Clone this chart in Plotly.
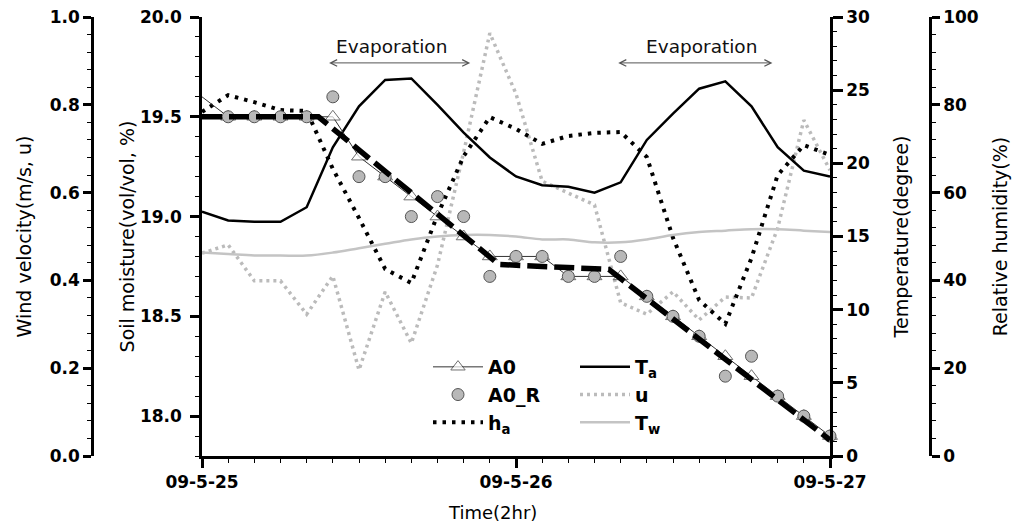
import plotly.graph_objects as go

# Time axis: two-hourly readings over two days
hours = list(range(0, 49, 2))
date_ticks = [0, 24, 48]
date_labels = ["09-5-25", "09-5-26", "09-5-27"]

# Soil moisture (vol/vol, %)
a0 = [19.6, 19.5, 19.5, 19.5, 19.5, 19.5, 19.3, 19.2, 19.1, 19.0, 18.9, 18.8, 18.8,
      18.8, 18.7, 18.7, 18.7, 18.6, 18.5, 18.4, 18.3, 18.2, 18.1, 18.0, 17.9]
a0_r = [None, 19.5, 19.5, 19.5, 19.5, 19.6, 19.2, 19.2, 19.0, 19.1, 19.0, 18.7, 18.8,
        18.8, 18.7, 18.7, 18.8, 18.6, 18.5, 18.4, 18.2, 18.3, 18.1, 18.0, 17.9]

# Piecewise trend of soil moisture
trend_hours = [0, 8.9, 22.7, 31.1, 48]
trend_moisture = [19.5, 19.5, 18.76, 18.735, 17.88]

# Air and water temperature (degree)
air_temp = [16.7, 16.1, 16.0, 16.0, 17.0, 21.1, 23.9, 25.7, 25.8, 24.0, 22.1, 20.4, 19.1,
            18.5, 18.4, 18.0, 18.7, 21.6, 23.4, 25.1, 25.6, 23.9, 21.1, 19.5, 19.1]
water_temp = [13.9, 13.8, 13.7, 13.7, 13.7, 13.9, 14.2, 14.5, 14.8, 15.0, 15.1, 15.1, 15.0,
              14.8, 14.8, 14.6, 14.6, 14.8, 15.1, 15.3, 15.4, 15.5, 15.5, 15.4, 15.3]

# Relative humidity (%)
humidity = [78.4, 82.2, 80.6, 78.8, 78.6, 65.4, 54.2, 42.6, 39.4, 54.9, 68.3, 77.2, 74.5,
            71.1, 72.9, 73.6, 73.8, 68.1, 49.7, 35.5, 30.1, 45.1, 64.0, 70.8, 68.6]

# Wind velocity (m/s)
wind = [0.462, 0.481, 0.399, 0.399, 0.323, 0.410, 0.196, 0.374, 0.257, 0.435, 0.692, 0.963, 0.825,
        0.626, 0.599, 0.572, 0.349, 0.323, 0.374, 0.310, 0.362, 0.360, 0.519, 0.765, 0.651]

# Evaporation periods (hours)
evap_start = [9.6, 31.7]
evap_end = [20.5, 43.6]
evap_label_hour = [14.5, 38.2]

W, H = 1014, 528
X0, X1 = 202, 830
TOP, BOTTOM = 17, 456
FONT = "DejaVu Sans"


def py(px):
    """Pixel row -> paper y fraction of the plot area."""
    return (BOTTOM - px) / (BOTTOM - TOP)


fig = go.Figure()

fig.add_trace(go.Scatter(
    x=hours, y=a0, name="A0", yaxis="y4", mode="lines+markers", legend="legend",
    line=dict(color="#333333", width=1),
    marker=dict(symbol="triangle-up", size=[0] + [13] * (len(hours) - 1), color="white",
                line=dict(color="#333333", width=1)),
    cliponaxis=False))
fig.add_trace(go.Scatter(
    x=hours, y=a0_r, name="A0_R", yaxis="y4", mode="markers", legend="legend",
    marker=dict(symbol="circle", size=12, color="#b8b8b8", line=dict(color="#555555", width=1)),
    cliponaxis=False))
fig.add_trace(go.Scatter(
    x=hours, y=humidity, name="h<sub>a</sub>", yaxis="y2", mode="lines", legend="legend",
    line=dict(color="black", width=4, dash="3.5px,6px")))
fig.add_trace(go.Scatter(
    x=hours, y=air_temp, name="T<sub>a</sub>", yaxis="y3", mode="lines", legend="legend2",
    line=dict(color="black", width=2.5)))
fig.add_trace(go.Scatter(
    x=hours, y=wind, name="u", yaxis="y", mode="lines", legend="legend2",
    line=dict(color="#bbbbbb", width=3.5, dash="3px,4px")))
fig.add_trace(go.Scatter(
    x=hours, y=water_temp, name="T<sub>w</sub>", yaxis="y3", mode="lines", legend="legend2",
    line=dict(color="#c4c4c4", width=2.5, shape="spline")))
fig.add_trace(go.Scatter(
    x=trend_hours, y=trend_moisture, name="trend", yaxis="y4", mode="lines", showlegend=False,
    line=dict(color="black", width=5.5, dash="20px,7px")))

tickfont = dict(family=FONT, size=17, color="black", weight="bold")
titlefont = dict(family=FONT, size=19, color="black")


def axis_style(**kw):
    base = dict(showgrid=False, zeroline=False, showline=True, linecolor="black", linewidth=2.5,
                ticks="outside", tickcolor="black", tickwidth=2.5, ticklen=9,
                tickfont=tickfont, automargin=False)
    base.update(kw)
    return base


def minor(step, ticks="outside"):
    return dict(dtick=step, ticks=ticks, ticklen=4, tickwidth=1.2, tickcolor="black")


fig.update_layout(
    width=W, height=H, template="none",
    margin=dict(l=0, r=0, t=TOP, b=H - BOTTOM),
    paper_bgcolor="white", plot_bgcolor="rgba(0,0,0,0)",
    font=dict(family=FONT, color="black"),
    xaxis=axis_style(domain=[X0 / W, X1 / W], anchor="y", range=[0, 48],
                     tickvals=date_ticks, ticktext=date_labels, ticklabelstandoff=0,
                     minor=dict(tickvals=hours, ticks="outside", ticklen=4, tickwidth=1.2,
                                tickcolor="black")),
    xaxis2=axis_style(overlaying="x", side="top", anchor="y", range=[0, 48],
                      tickvals=[24], ticks="inside", showticklabels=False,
                      minor=dict(tickvals=hours, ticks="inside", ticklen=4, tickwidth=1.2,
                                 tickcolor="black")),
    yaxis=axis_style(anchor="free", position=92 / W, side="left", range=[0, 1],
                     tick0=0, dtick=0.2, tickformat=".1f", ticklen=8, minor=minor(0.04),
                     title=dict(text="Wind velocity(m/s, u)", font=titlefont, standoff=12)),
    yaxis2=axis_style(overlaying="y", anchor="free", position=930 / W, side="right",
                      range=[0, 100], tick0=0, dtick=20, ticklen=8, minor=minor(4),
                      title=dict(text="Relative humidity(%)", font=titlefont, standoff=15)),
    yaxis3=axis_style(overlaying="y", anchor="x", side="right", range=[0, 30],
                      tick0=0, dtick=5, ticklen=10, minor=minor(1),
                      title=dict(text="Temperature(degree)", font=titlefont, standoff=26)),
    yaxis4=axis_style(overlaying="y", anchor="x", side="left", range=[17.8, 20.0],
                      tick0=18, dtick=0.5, tickformat=".1f", ticklabelstandoff=5,
                      minor=minor(0.1),
                      title=dict(text="Soil moisture(vol/vol, %)", font=titlefont, standoff=1)),
    legend=dict(x=428 / W, y=py(348), xanchor="left", yanchor="top", bgcolor="rgba(0,0,0,0)",
                font=dict(family=FONT, size=19, color="black", weight="bold"), itemwidth=50,
                tracegroupgap=0),
    legend2=dict(x=575 / W, y=py(348), xanchor="left", yanchor="top", bgcolor="rgba(0,0,0,0)",
                 font=dict(family=FONT, size=19, color="black", weight="bold"), itemwidth=50,
                 tracegroupgap=0),
)

annotations = [dict(text="Time(2hr)", xref="paper", yref="paper", x=492 / W, y=py(512),
                    xanchor="center", yanchor="middle", showarrow=False,
                    font=dict(family=FONT, size=18, color="black"))]
for start, end, mid in zip(evap_start, evap_end, evap_label_hour):
    annotations.append(dict(text="Evaporation", xref="x", yref="paper", x=mid, y=py(46),
                            xanchor="center", yanchor="middle", showarrow=False,
                            font=dict(family=FONT, size=18.5, color="#111111")))
    annotations.append(dict(text="", xref="x", yref="y4", x=end, y=19.77,
                            axref="x", ayref="y4", ax=start, ay=19.77,
                            showarrow=True, arrowside="end+start", arrowhead=5,
                            startarrowhead=5, arrowsize=1.3, startarrowsize=1.3,
                            arrowwidth=1, arrowcolor="#555555", standoff=0, startstandoff=0))
fig.update_layout(annotations=annotations)

fig.write_html("out.html")
